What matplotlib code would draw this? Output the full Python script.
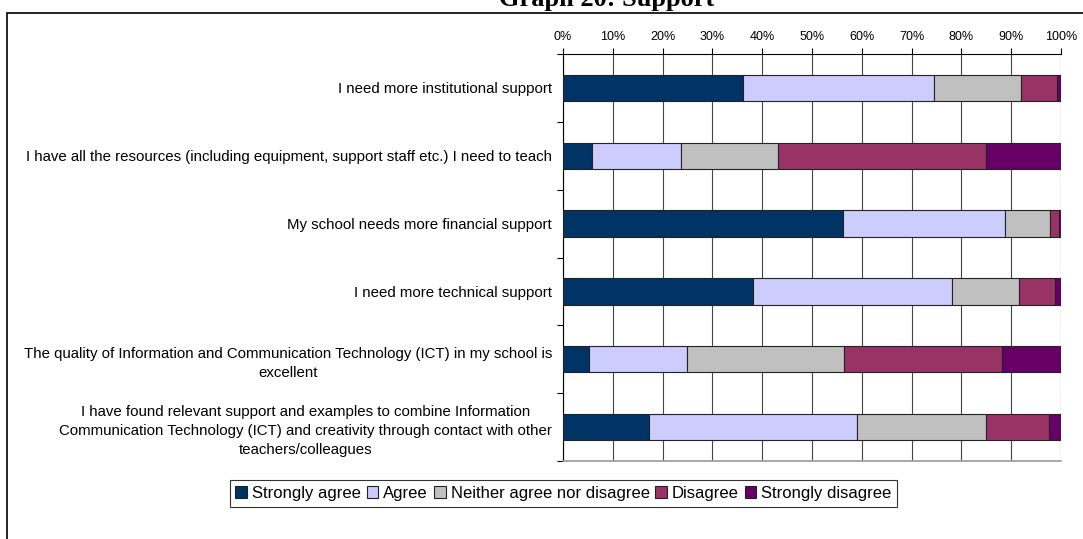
import numpy as np
import matplotlib
matplotlib.use("Agg")
import matplotlib.pyplot as plt
from matplotlib.patches import Rectangle

plt.rcParams['font.family'] = ['Liberation Sans', 'DejaVu Sans']

statements = [
    "I need more institutional support",
    "I have all the resources (including equipment, support staff etc.) I need to teach",
    "My school needs more financial support",
    "I need more technical support",
    "The quality of Information and Communication Technology (ICT) in my school is\nexcellent",
    "I have found relevant support and examples to combine Information\n"
    "Communication Technology (ICT) and creativity through contact with other\n"
    "teachers/colleagues",
]
answers = ["Strongly agree", "Agree", "Neither agree nor disagree", "Disagree", "Strongly disagree"]
colors = ["#003366", "#CCCCFF", "#C0C0C0", "#993366", "#660066"]

# percentages per answer, one value per statement
strongly_agree = [36.1, 5.8, 56.3, 38.1, 5.3, 17.2]
agree = [38.3, 17.9, 32.4, 40.0, 19.5, 41.8]
neither = [17.5, 19.5, 9.0, 13.4, 31.7, 25.9]
disagree = [7.2, 41.7, 1.8, 7.3, 31.7, 12.6]
strongly_disagree = [0.9, 15.1, 0.5, 1.2, 11.8, 2.5]
series = [strongly_agree, agree, neither, disagree, strongly_disagree]

W, H = 1083, 539
fig = plt.figure(figsize=(W / 100, H / 100), dpi=100)

# outer frame of the chart object
fig.patches.append(Rectangle((7 / W, -0.1), 1.2, 1 - 13 / H + 0.1, transform=fig.transFigure,
                             fill=False, edgecolor='black', lw=1.2))
fig.text(607 / W, 1 - 6 / H, "Graph 20: Support", ha='center', va='baseline',
         fontsize=19, fontweight='bold', family=['Liberation Serif', 'DejaVu Serif'])

ax = fig.add_axes([563 / W, 1 - 461 / H, (1061 - 563) / W, (461 - 54) / H])

y = np.arange(len(statements))
left = np.zeros(len(statements))
for vals, name, c in zip(series, answers, colors):
    ax.barh(y, vals, left=left, height=0.39, color=c, edgecolor='#222222', lw=0.8,
            label=name, zorder=3)
    left += np.array(vals)

ax.set_xlim(0, 100)
ax.set_ylim(len(statements) - 0.5, -0.5)

ax.xaxis.tick_top()
ax.set_xticks(np.arange(0, 101, 10))
ax.set_xticklabels([f"{v}%" for v in range(0, 101, 10)], fontsize=9)
ax.tick_params(axis='x', direction='out', length=4, width=0.8, pad=4, color='black')
ax.grid(axis='x', color='#444444', lw=0.8, zorder=0)

ax.set_yticks(np.arange(len(statements) + 1) - 0.5)
ax.set_yticklabels([])
ax.set_yticks(y, minor=True)
ax.set_yticklabels(statements, minor=True, fontsize=10.8, multialignment='center',
                   linespacing=1.45)
ax.tick_params(axis='y', which='major', direction='out', length=4, width=0.8)
ax.tick_params(axis='y', which='minor', length=0, pad=8)

ax.spines['left'].set_color('black')
ax.spines['top'].set_color('black')
ax.spines['right'].set_visible(False)
ax.spines['bottom'].set_color('#999999')
ax.spines['bottom'].set_linewidth(1.2)

leg = fig.legend(loc='center', bbox_to_anchor=(563.5 / W, 1 - 493.5 / H), ncol=5,
                 fontsize=12, frameon=True, fancybox=False, edgecolor='black',
                 handlelength=0.7, handleheight=0.7, handletextpad=0.3,
                 columnspacing=0.35, borderpad=0.35, borderaxespad=0)
leg.get_frame().set_linewidth(0.8)

fig.savefig("out.png", dpi=100)
